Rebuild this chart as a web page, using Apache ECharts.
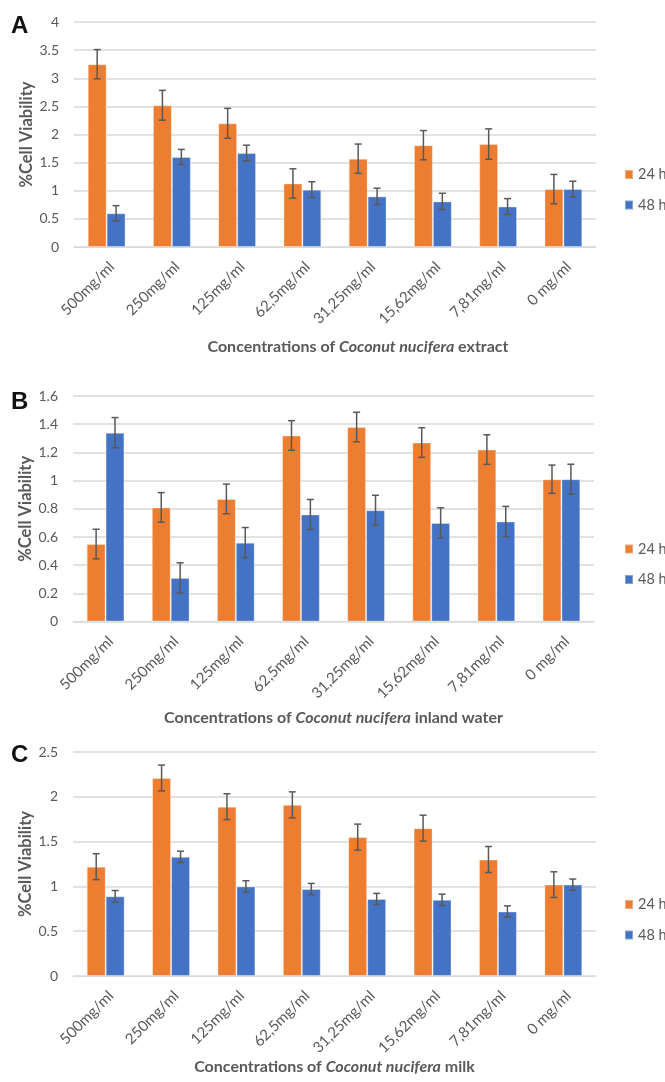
<!DOCTYPE html>
<html>
<head>
<meta charset="utf-8">
<script src="https://cdn.jsdelivr.net/npm/echarts@6/dist/echarts.min.js"></script>
<style>
  html, body { margin: 0; padding: 0; background: #ffffff; }
  #chart { width: 665px; height: 1082px; }
</style>
</head>
<body>
<div id="chart"></div>
<script>
// Concentration categories shared by all three panels
const categories = ['500mg/ml', '250mg/ml', '125mg/ml', '62,5mg/ml', '31,25mg/ml', '15,62mg/ml', '7,81mg/ml', '0 mg/ml'];
const seriesNames = ['24 h', '48 h'];

// Panel A: extract
const extract24 = [3.25, 2.52, 2.20, 1.13, 1.57, 1.81, 1.83, 1.03];
const extract48 = [0.60, 1.60, 1.67, 1.02, 0.90, 0.81, 0.72, 1.03];
const extractErr24 = [0.26, 0.265, 0.265, 0.26, 0.26, 0.26, 0.27, 0.26];
const extractErr48 = [0.135, 0.135, 0.14, 0.14, 0.145, 0.145, 0.14, 0.14];

// Panel B: inland water
const water24 = [0.55, 0.81, 0.87, 1.32, 1.38, 1.27, 1.22, 1.01];
const water48 = [1.34, 0.31, 0.56, 0.76, 0.79, 0.70, 0.71, 1.01];
const waterErr24 = [0.105, 0.105, 0.105, 0.105, 0.105, 0.105, 0.105, 0.10];
const waterErr48 = [0.107, 0.107, 0.107, 0.106, 0.106, 0.107, 0.107, 0.106];

// Panel C: milk
const milk24 = [1.22, 2.21, 1.89, 1.91, 1.55, 1.65, 1.30, 1.02];
const milk48 = [0.89, 1.33, 1.00, 0.97, 0.86, 0.85, 0.72, 1.02];
const milkErr24 = [0.145, 0.144, 0.144, 0.145, 0.145, 0.145, 0.145, 0.143];
const milkErr48 = [0.064, 0.063, 0.063, 0.063, 0.062, 0.063, 0.063, 0.062];

// Y axis ranges
const yMaxA = 4, yStepA = 0.5;
const yMaxB = 1.6, yStepB = 0.2;
const yMaxC = 2.5, yStepC = 0.5;

const ORANGE = '#ED7D31';
const BLUE = '#4472C4';
const GREY_TEXT = '#595959';
const GRID_LINE = '#D9D9D9';
const FONT = 'Lato, "Open Sans", sans-serif';
const BAR_FRAC = 0.29;

const panels = [
  { letter: 'A', s24: extract24, s48: extract48, e24: extractErr24, e48: extractErr48,
    yMax: yMaxA, yStep: yStepA, grid: { left: 74, right: 69, top: 22, height: 225 },
    subject: 'extract', nameGap: 92, namePad: 46, legendTop: 167, letterY: 14 },
  { letter: 'B', s24: water24, s48: water48, e24: waterErr24, e48: waterErr48,
    yMax: yMaxB, yStep: yStepB, grid: { left: 73, right: 71, top: 396, height: 225.6 },
    subject: 'inland water', nameGap: 88, namePad: 0, legendTop: 541.5, letterY: 390 },
  { letter: 'C', s24: milk24, s48: milk48, e24: milkErr24, e48: milkErr48,
    yMax: yMaxC, yStep: yStepC, grid: { left: 73, right: 69, top: 752, height: 224 },
    subject: 'milk', nameGap: 83, namePad: 0, legendTop: 897, letterY: 743 }
];

function errorRenderer(sign) {
  return function (params, api) {
    const idx = api.value(0);
    const lo = api.coord([idx, api.value(1)]);
    const hi = api.coord([idx, api.value(2)]);
    const band = api.size([1, 0])[0];
    const x = lo[0] + sign * band * BAR_FRAC / 2;
    const cap = 3.5;
    const style = { stroke: '#595959', lineWidth: 1.5 };
    return {
      type: 'group',
      children: [
        { type: 'line', shape: { x1: x, y1: hi[1], x2: x, y2: lo[1] }, style: style },
        { type: 'line', shape: { x1: x - cap, y1: hi[1], x2: x + cap, y2: hi[1] }, style: style },
        { type: 'line', shape: { x1: x - cap, y1: lo[1], x2: x + cap, y2: lo[1] }, style: style }
      ]
    };
  };
}

const grid = [], xAxis = [], yAxis = [], series = [], legend = [], graphic = [];

panels.forEach(function (p, i) {
  grid.push(Object.assign({ containLabel: false }, p.grid));
  xAxis.push({
    type: 'category', gridIndex: i, data: categories,
    axisLine: { show: true, lineStyle: { color: GRID_LINE, width: 1 } },
    axisTick: { show: false },
    axisLabel: {
      rotate: 45, margin: 12, verticalAlign: 'top', interval: 0,
      color: GREY_TEXT, fontFamily: FONT, fontSize: 15
    },
    name: '{n|Concentrations of }{i|Coconut nucifera}{n| ' + p.subject + '}',
    nameLocation: 'middle', nameGap: p.nameGap, nameMoveOverlap: false,
    nameTextStyle: {
      padding: [0, 0, 0, p.namePad],
      rich: {
        n: { fontFamily: FONT, fontWeight: 'bold', fontSize: 16, color: GREY_TEXT },
        i: { fontFamily: FONT, fontWeight: 'bold', fontStyle: 'italic', fontSize: 16, color: GREY_TEXT }
      }
    }
  });
  yAxis.push({
    type: 'value', gridIndex: i, min: 0, max: p.yMax, interval: p.yStep,
    axisLine: { show: false }, axisTick: { show: false },
    splitLine: { lineStyle: { color: GRID_LINE, width: 1.5 } },
    axisLabel: { color: GREY_TEXT, fontFamily: FONT, fontSize: 14, margin: 15 },
    name: '%Cell Viability', nameLocation: 'middle', nameRotate: 90, nameGap: 39,
    nameMoveOverlap: false,
    nameTextStyle: { fontFamily: FONT, fontWeight: 'bold', fontSize: 16.5, color: GREY_TEXT }
  });
  const barCommon = {
    type: 'bar', xAxisIndex: i, yAxisIndex: i,
    barWidth: (BAR_FRAC * 100) + '%', barGap: '0%',
    itemStyle: { borderColor: 'rgba(255,255,255,0.35)', borderWidth: 1 }
  };
  series.push(Object.assign({}, barCommon, {
    name: seriesNames[0], data: p.s24, itemStyle: Object.assign({ color: ORANGE }, barCommon.itemStyle)
  }));
  series.push(Object.assign({}, barCommon, {
    name: seriesNames[1], data: p.s48, itemStyle: Object.assign({ color: BLUE }, barCommon.itemStyle)
  }));
  series.push({
    type: 'custom', xAxisIndex: i, yAxisIndex: i, z: 5,
    renderItem: errorRenderer(-1), encode: { x: 0, y: [1, 2] },
    data: p.s24.map(function (v, k) { return [k, v - p.e24[k], v + p.e24[k]]; })
  });
  series.push({
    type: 'custom', xAxisIndex: i, yAxisIndex: i, z: 5,
    renderItem: errorRenderer(1), encode: { x: 0, y: [1, 2] },
    data: p.s48.map(function (v, k) { return [k, v - p.e48[k], v + p.e48[k]]; })
  });
  legend.push({
    data: seriesNames, orient: 'vertical', left: 624, top: p.legendTop, padding: 0,
    icon: 'rect', itemWidth: 8, itemHeight: 9, itemGap: 15.5,
    textStyle: { color: GREY_TEXT, fontFamily: FONT, fontSize: 14.5, lineHeight: 14 },
    selectedMode: false
  });
  graphic.push({
    type: 'text', left: 11, top: p.letterY,
    style: { text: p.letter, fontFamily: '"Liberation Sans", Arial, sans-serif', fontWeight: 'bold', fontSize: 24, fill: '#111111' }
  });
});

const chart = echarts.init(document.getElementById('chart'), null, { renderer: 'canvas' });
chart.setOption({
  animation: false,
  backgroundColor: '#ffffff',
  grid: grid, xAxis: xAxis, yAxis: yAxis, series: series, legend: legend, graphic: graphic
});
</script>
</body>
</html>
